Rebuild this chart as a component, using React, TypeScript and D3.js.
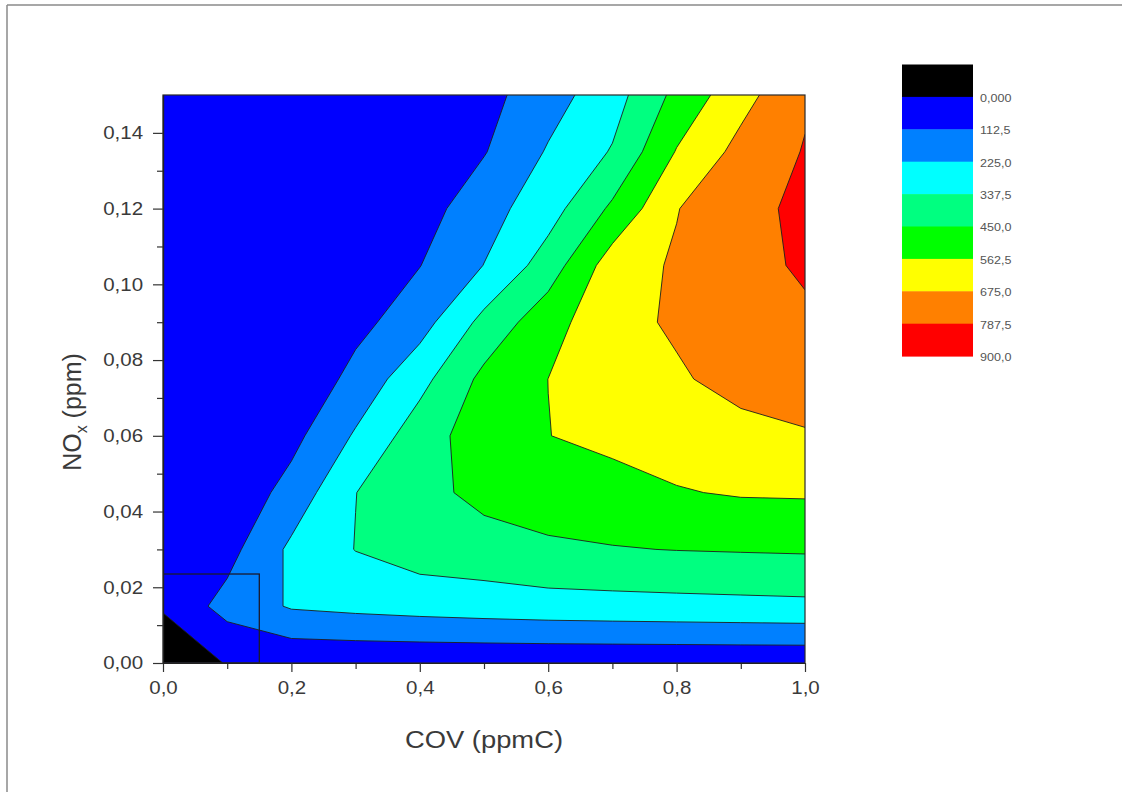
import { useEffect, useRef } from "react";
import * as d3 from "d3";

const WIDTH = 1122;
const HEIGHT = 792;

// grid columns (COV, ppmC) and rows (NOx, ppm)
const covGrid = [0, 0.1, 0.2, 0.3, 0.4, 0.5, 0.6, 0.7, 0.8, 0.9, 1.0];
const noxGrid = [0, 0.015, 0.03, 0.045, 0.06, 0.075, 0.09, 0.105, 0.12, 0.135, 0.15];

// z values, one row per NOx level, one value per COV column
const zNox000 = [-200, 15, 18.5, 20, 20, 20, 20, 20, 20.5, 21, 21];
const zNox015 = [27, 149, 236.4, 255, 270, 282, 292, 298, 303, 308, 313];
const zNox030 = [40, 74.4, 247.5, 340.3, 390, 405, 434.5, 444.3, 452.7, 457.7, 462];
const zNox045 = [22, 24.4, 154, 336, 416, 480, 497, 521.7, 555.6, 572, 575];
const zNox060 = [20, 22, 79.2, 237.7, 398.7, 507.8, 561, 590, 610, 640.5, 666.7];
const zNox075 = [22, 20, 10, 149.4, 301.4, 478.6, 563, 625, 661.5, 712, 722.6];
const zNox090 = [30, 25, 20, 78.2, 179, 370, 520, 640, 690, 745, 775];
const zNox105 = [35, 30, 25, 40, 110, 227, 390, 620, 688.75, 765, 797];
const zNox120 = [40, 35, 30, 35, 63.8, 179.8, 290, 470, 670, 770, 800];
const zNox135 = [45, 40, 35, 35, 45, 106, 235, 346, 569, 710, 794];
const zNox150 = [50, 45, 40, 40, 45, 75.3, 178.6, 290, 480, 635, 773];

const levels = [0, 112.5, 225, 337.5, 450, 562.5, 675, 787.5];
const levelLabels = ["0,000", "112,5", "225,0", "337,5", "450,0", "562,5", "675,0", "787,5", "900,0"];
const bandColors = ["#000000", "#0000ff", "#0080ff", "#00ffff", "#00ff80", "#00ff00", "#ffff00", "#ff8000", "#ff0000"];

const xMajorTicks = [0, 0.2, 0.4, 0.6, 0.8, 1.0];
const xMinorTicks = [0.1, 0.3, 0.5, 0.7, 0.9];
const yMajorTicks = [0, 0.02, 0.04, 0.06, 0.08, 0.1, 0.12, 0.14];
const yMinorTicks = [0.01, 0.03, 0.05, 0.07, 0.09, 0.11, 0.13];

// highlighted corner box
const boxCov = [0, 0.15];
const boxNox = [0, 0.0235];

const FONT = "'Liberation Sans', Arial, sans-serif";
const STRETCH = "scale(1.14,1)";

function ContourChart() {
  const svgRef = useRef<SVGSVGElement | null>(null);

  useEffect(() => {
    const svgElement = svgRef.current;
    if (!svgElement) return;

    const svg = d3.select(svgElement);
    svg.selectAll("*").remove();

    const plot = { left: 163, right: 805, top: 95, bottom: 663 };

    const x = d3.scaleLinear().domain([0, 1]).range([plot.left, plot.right]);
    const y = d3.scaleLinear().domain([0, 0.15]).range([plot.bottom, plot.top]);

    // page border
    svg.append("line").attr("x1", 7).attr("x2", WIDTH).attr("y1", 5).attr("y2", 5)
      .attr("stroke", "#8a8a8a").attr("stroke-width", 1.5);
    svg.append("line").attr("x1", 7).attr("x2", 7).attr("y1", 5).attr("y2", HEIGHT)
      .attr("stroke", "#8a8a8a").attr("stroke-width", 1.5);

    svg.append("defs").append("clipPath").attr("id", "plot-clip")
      .append("rect")
      .attr("x", plot.left).attr("y", plot.top)
      .attr("width", plot.right - plot.left).attr("height", plot.bottom - plot.top);

    const n = covGrid.length;
    const m = noxGrid.length;
    const zRows = [zNox000, zNox015, zNox030, zNox045, zNox060, zNox075, zNox090, zNox105, zNox120, zNox135, zNox150];
    const values = zRows.flat();

    const contours = d3.contours().size([n, m]).thresholds(levels)(values);

    const gx = d3.scaleLinear().domain([0.5, n - 0.5]).range([x(covGrid[0]), x(covGrid[n - 1])]);
    const gy = d3.scaleLinear().domain([0.5, m - 0.5]).range([y(noxGrid[0]), y(noxGrid[m - 1])]);
    const path = d3.geoPath(
      d3.geoTransform({
        point(px: number, py: number) {
          (this as any).stream.point(gx(px), gy(py));
        },
      })
    );

    const mapGroup = svg.append("g").attr("clip-path", "url(#plot-clip)");
    mapGroup.append("rect")
      .attr("x", plot.left).attr("y", plot.top)
      .attr("width", plot.right - plot.left).attr("height", plot.bottom - plot.top)
      .attr("fill", bandColors[0]);

    mapGroup.selectAll("path.band")
      .data(contours)
      .join("path")
      .attr("class", "band")
      .attr("d", (d) => path(d as any))
      .attr("fill", (_, i) => bandColors[i + 1])
      .attr("stroke", "#1e1e1e")
      .attr("stroke-width", 0.9)
      .attr("stroke-linejoin", "round");

    mapGroup.append("rect")
      .attr("x", x(boxCov[0])).attr("y", y(boxNox[1]))
      .attr("width", x(boxCov[1]) - x(boxCov[0]))
      .attr("height", y(boxNox[0]) - y(boxNox[1]))
      .attr("fill", "none")
      .attr("stroke", "#1a1a2e")
      .attr("stroke-width", 1.3);

    svg.append("rect")
      .attr("x", plot.left).attr("y", plot.top)
      .attr("width", plot.right - plot.left).attr("height", plot.bottom - plot.top)
      .attr("fill", "none").attr("stroke", "#2a2a2a").attr("stroke-width", 1.2);

    const fmtX = (d: number) => d3.format(".1f")(d).replace(".", ",");
    const fmtY = (d: number) => d3.format(".2f")(d).replace(".", ",");

    const styleAxis = (g: any) => {
      g.select(".domain").attr("stroke", "#222").attr("stroke-width", 1.2);
      g.selectAll(".tick line").attr("stroke", "#333").attr("stroke-width", 1.2);
      g.selectAll(".tick text")
        .attr("fill", "#3a3a3a")
        .attr("font-family", FONT)
        .attr("font-size", 18)
        .attr("transform", STRETCH);
    };

    svg.append("g")
      .attr("transform", `translate(0,${plot.bottom})`)
      .call(d3.axisBottom(x).tickValues(xMinorTicks).tickSize(6).tickSizeOuter(0).tickFormat(() => ""))
      .call(styleAxis);
    svg.append("g")
      .attr("transform", `translate(0,${plot.bottom})`)
      .call(d3.axisBottom(x).tickValues(xMajorTicks).tickSize(9).tickSizeOuter(0).tickPadding(9).tickFormat(fmtX as any))
      .call(styleAxis);

    svg.append("g")
      .attr("transform", `translate(${plot.left},0)`)
      .call(d3.axisLeft(y).tickValues(yMinorTicks).tickSize(6).tickSizeOuter(0).tickFormat(() => ""))
      .call(styleAxis);
    svg.append("g")
      .attr("transform", `translate(${plot.left},0)`)
      .call(d3.axisLeft(y).tickValues(yMajorTicks).tickSize(10).tickSizeOuter(0).tickPadding(7.5).tickFormat(fmtY as any))
      .call(styleAxis);

    // axis titles
    svg.append("g")
      .attr("transform", `translate(${(plot.left + plot.right) / 2},748) ${STRETCH}`)
      .append("text")
      .attr("text-anchor", "middle")
      .attr("font-family", FONT)
      .attr("font-size", 24)
      .attr("fill", "#3a3a3a")
      .text("COV (ppmC)");

    const yTitle = svg.append("g")
      .attr("transform", "translate(81,412) rotate(-90)")
      .append("text")
      .attr("text-anchor", "middle")
      .attr("font-family", FONT)
      .attr("font-size", 25)
      .attr("fill", "#3a3a3a");
    yTitle.append("tspan").text("NO");
    yTitle.append("tspan").attr("font-size", 16).attr("dy", 6).text("x");
    yTitle.append("tspan").attr("dy", -6).text(" (ppm)");

    // colour scale legend
    const legendTop = 64.5;
    const boxH = 32.4;
    const legend = svg.append("g");
    legend.selectAll("rect")
      .data(bandColors)
      .join("rect")
      .attr("x", 902)
      .attr("y", (_, i) => legendTop + i * boxH)
      .attr("width", 71)
      .attr("height", boxH + 0.5)
      .attr("fill", (d) => d);

    legend.selectAll("g.lbl")
      .data(levelLabels)
      .join("g")
      .attr("class", "lbl")
      .attr("transform", (_, i) => `translate(980,${legendTop + (i + 1) * boxH + 2}) ${STRETCH}`)
      .append("text")
      .attr("dominant-baseline", "middle")
      .attr("font-family", FONT)
      .attr("font-size", 11)
      .attr("fill", "#555")
      .text((d) => d);
  }, []);

  return (
    <svg
      ref={svgRef}
      width={WIDTH}
      height={HEIGHT}
      style={{ position: "absolute", left: 0, top: 0, background: "#fff" }}
      role="img"
      aria-label="Contour map of COV vs NOx"
    />
  );
}

export default function App() {
  return <ContourChart />;
}
